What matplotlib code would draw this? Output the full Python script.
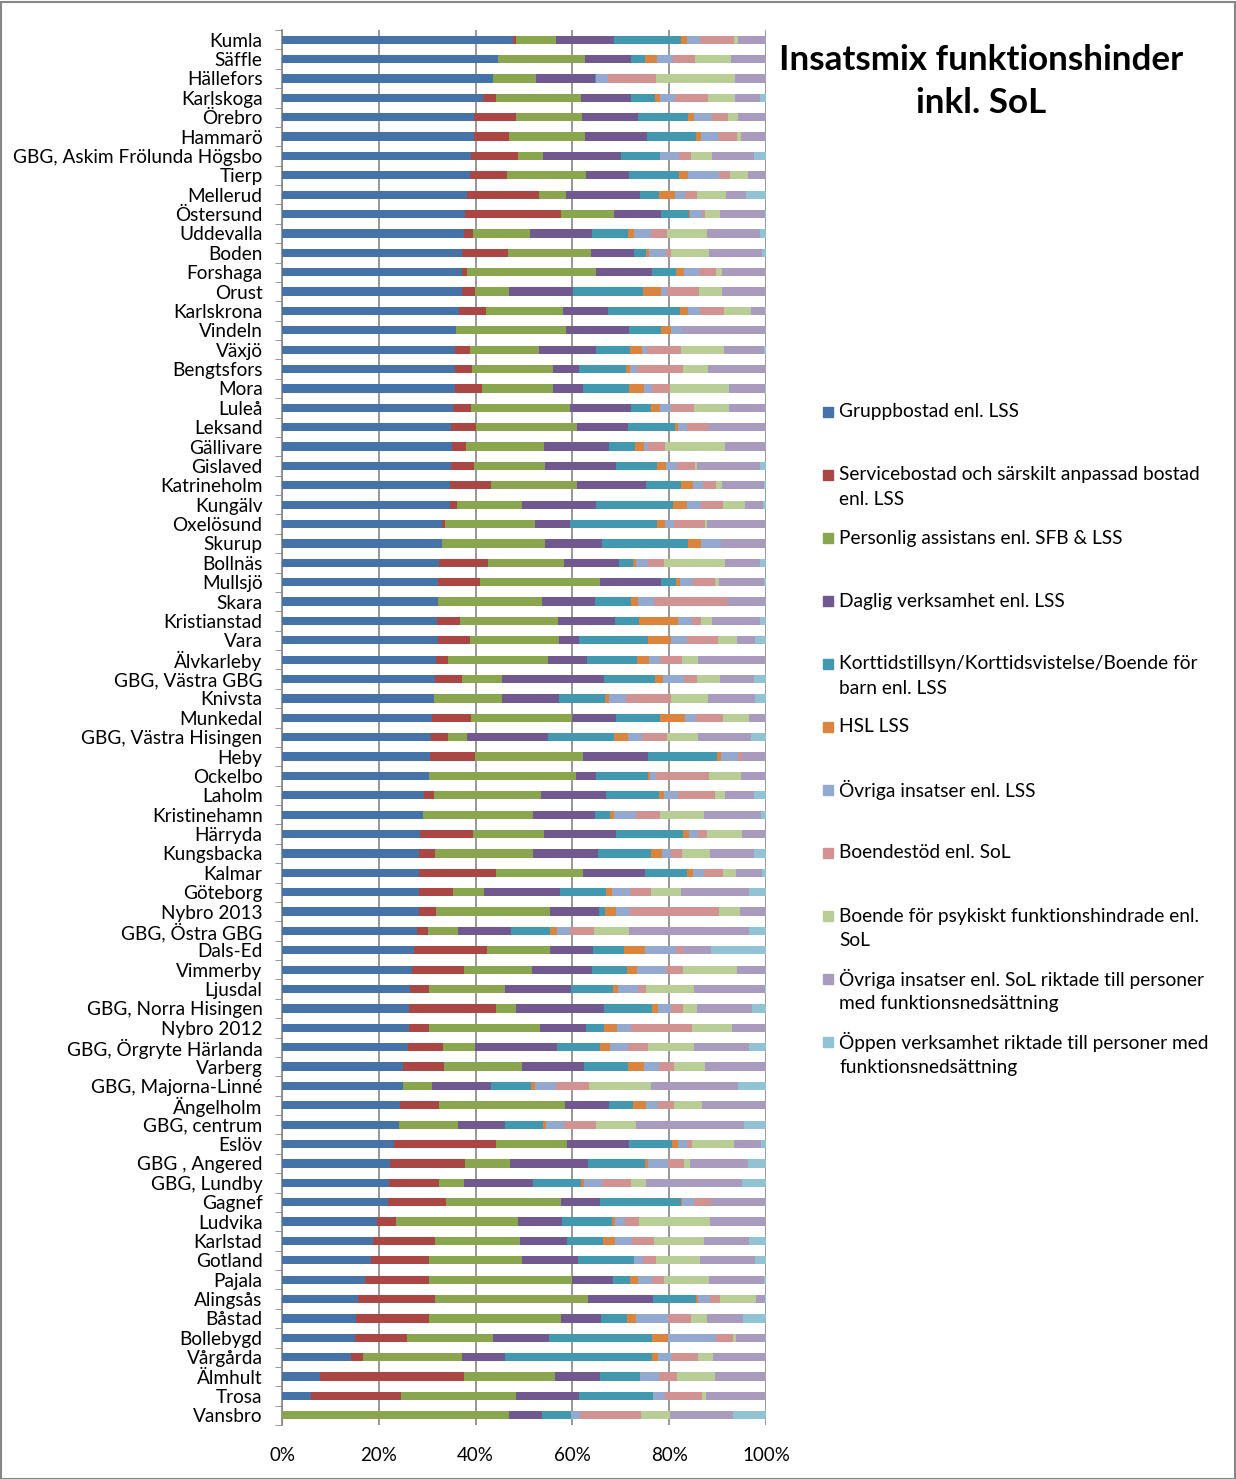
import numpy as np
import matplotlib
matplotlib.use("Agg")
import matplotlib.pyplot as plt
from matplotlib.patches import Rectangle

plt.rcParams['font.family'] = ['Lato', 'DejaVu Sans']

kommuner = [
    "Kumla", "Säffle", "Hällefors", "Karlskoga", "Örebro", "Hammarö",
    "GBG, Askim Frölunda Högsbo", "Tierp", "Mellerud", "Östersund", "Uddevalla", "Boden",
    "Forshaga", "Orust", "Karlskrona", "Vindeln", "Växjö", "Bengtsfors",
    "Mora", "Luleå", "Leksand", "Gällivare", "Gislaved", "Katrineholm",
    "Kungälv", "Oxelösund", "Skurup", "Bollnäs", "Mullsjö", "Skara",
    "Kristianstad", "Vara", "Älvkarleby", "GBG, Västra GBG", "Knivsta", "Munkedal",
    "GBG, Västra Hisingen", "Heby", "Ockelbo", "Laholm", "Kristinehamn", "Härryda",
    "Kungsbacka", "Kalmar", "Göteborg", "Nybro 2013", "GBG, Östra GBG", "Dals-Ed",
    "Vimmerby", "Ljusdal", "GBG, Norra Hisingen", "Nybro 2012", "GBG, Örgryte Härlanda", "Varberg",
    "GBG, Majorna-Linné", "Ängelholm", "GBG, centrum", "Eslöv", "GBG , Angered", "GBG, Lundby",
    "Gagnef", "Ludvika", "Karlstad", "Gotland", "Pajala", "Alingsås",
    "Båstad", "Bollebygd", "Vårgårda", "Älmhult", "Trosa", "Vansbro",
]

# andel (%) per insats, samma ordning som kommuner
gruppbostad = [
    47.6, 44.7, 43.5, 41.6, 39.6, 39.6,
    39.1, 38.9, 38.3, 37.9, 37.7, 37.3,
    37.3, 37.1, 36.7, 36.0, 35.8, 35.8,
    35.8, 35.4, 35.0, 35.0, 35.0, 34.8,
    34.6, 33.1, 33.1, 32.5, 32.3, 32.3,
    32.1, 32.1, 31.9, 31.7, 31.3, 31.1,
    30.7, 30.5, 30.3, 29.4, 29.0, 28.6,
    28.4, 28.4, 28.4, 28.2, 28.0, 27.2,
    26.9, 26.5, 26.3, 26.3, 26.1, 25.1,
    24.9, 24.5, 24.1, 23.2, 22.2, 22.0,
    22.0, 19.7, 18.7, 18.5, 17.1, 15.8,
    15.4, 15.0, 14.3, 7.9, 5.9, 0,
]
servicebostad = [
    0.6, 0, 0, 2.7, 8.7, 7.2,
    9.7, 7.6, 14.9, 19.8, 1.7, 9.5,
    1.0, 2.7, 5.6, 0, 3.1, 3.5,
    5.6, 3.7, 5.0, 2.9, 4.8, 8.5,
    1.4, 0.6, 0, 10.1, 8.5, 0,
    4.8, 6.8, 2.3, 5.4, 0, 8.1,
    3.5, 9.3, 0, 1.9, 0, 11.0,
    3.3, 15.9, 7.0, 3.5, 2.1, 15.1,
    10.8, 3.9, 18.0, 4.1, 7.2, 8.3,
    0, 7.9, 0, 21.1, 15.5, 10.5,
    11.8, 3.9, 12.8, 11.8, 13.4, 15.9,
    14.9, 10.8, 2.5, 29.8, 18.6, 0,
]
personlig_assistans = [
    8.3, 17.8, 8.9, 17.4, 13.6, 15.7,
    5.0, 16.3, 5.4, 10.8, 11.8, 17.2,
    26.7, 7.0, 15.9, 22.7, 14.3, 16.7,
    14.5, 20.5, 20.9, 16.1, 14.5, 17.8,
    13.4, 18.6, 21.3, 15.7, 24.8, 21.3,
    20.3, 18.2, 20.7, 8.3, 14.1, 20.9,
    4.1, 22.3, 30.4, 22.1, 22.9, 14.5,
    20.3, 17.8, 6.4, 23.6, 6.4, 13.0,
    14.1, 15.7, 4.1, 22.9, 6.6, 16.1,
    6.0, 26.1, 12.2, 14.5, 9.3, 5.0,
    23.8, 25.2, 17.6, 19.4, 29.6, 31.6,
    27.3, 17.8, 20.3, 18.8, 23.8, 47.0,
]
daglig_verksamhet = [
    12.0, 9.7, 12.2, 10.5, 11.6, 12.8,
    16.1, 8.9, 15.3, 9.9, 12.8, 8.9,
    11.6, 13.4, 9.3, 13.0, 11.6, 5.4,
    6.2, 12.6, 10.5, 13.4, 14.7, 14.1,
    15.3, 7.2, 11.8, 11.2, 12.6, 11.0,
    11.8, 4.1, 8.1, 21.1, 11.8, 9.1,
    16.7, 13.4, 4.1, 13.4, 12.8, 14.9,
    13.4, 13.0, 15.7, 10.1, 10.8, 8.9,
    12.4, 13.6, 18.2, 9.5, 17.0, 12.8,
    12.2, 9.3, 9.7, 12.8, 16.1, 14.3,
    8.1, 8.9, 9.7, 11.6, 8.5, 13.4,
    8.3, 11.6, 8.9, 9.3, 13.0, 6.8,
]
korttid = [
    13.9, 2.9, 0.2, 4.8, 10.3, 10.1,
    8.1, 10.3, 3.9, 5.6, 7.4, 2.3,
    4.8, 14.3, 14.9, 6.6, 7.2, 9.7,
    9.5, 4.1, 9.7, 5.4, 8.5, 7.4,
    15.9, 18.0, 17.6, 2.9, 3.1, 7.4,
    5.0, 14.3, 10.3, 10.5, 9.5, 9.1,
    13.6, 14.3, 10.8, 11.0, 2.9, 13.9,
    11.0, 8.5, 9.5, 1.2, 8.1, 6.4,
    7.2, 8.7, 9.9, 3.7, 8.9, 9.1,
    8.3, 4.8, 7.9, 8.9, 11.8, 9.9,
    16.7, 10.5, 7.4, 11.4, 3.5, 8.9,
    5.4, 21.3, 30.4, 8.3, 15.3, 6.0,
]
hsl_lss = [
    1.2, 2.3, 0, 1.2, 1.2, 1.0,
    0, 1.9, 3.5, 0.2, 1.4, 0.8,
    1.7, 3.9, 1.7, 1.9, 2.3, 0.8,
    3.1, 1.7, 0.8, 1.9, 1.9, 2.3,
    2.9, 1.7, 2.7, 0.6, 0.8, 1.4,
    7.9, 4.8, 2.5, 1.7, 0.8, 5.2,
    2.9, 0.8, 0.4, 1.0, 1.0, 1.2,
    2.1, 1.4, 1.2, 2.3, 1.4, 4.3,
    2.1, 1.0, 1.2, 2.7, 1.9, 3.3,
    0.8, 2.7, 0.6, 1.4, 0.6, 0.6,
    0.2, 0.6, 2.5, 0, 1.7, 0.4,
    1.9, 3.3, 1.2, 0, 0, 0,
]
ovriga_lss = [
    2.6, 3.4, 2.5, 3.1, 3.7, 3.5,
    3.9, 6.2, 1.9, 2.5, 3.5, 3.5,
    3.1, 1.2, 2.5, 2.3, 1.2, 1.4,
    1.7, 2.3, 1.7, 0.8, 2.3, 2.1,
    2.9, 1.7, 4.3, 2.5, 2.7, 3.3,
    2.9, 3.3, 2.3, 4.3, 3.5, 2.3,
    2.9, 3.5, 1.2, 2.9, 4.5, 1.9,
    1.9, 2.1, 3.8, 2.9, 2.7, 6.4,
    6.0, 4.1, 2.7, 2.9, 3.7, 3.2,
    4.5, 2.5, 3.7, 1.7, 4.1, 3.7,
    2.5, 1.9, 3.5, 1.9, 2.7, 2.5,
    6.6, 9.9, 2.9, 3.8, 2.5, 1.7,
]
boendestod = [
    7.0, 4.5, 9.9, 6.8, 3.3, 3.9,
    2.5, 2.3, 2.5, 0.6, 3.3, 1.0,
    3.5, 6.6, 5.0, 0, 7.0, 9.5,
    3.7, 4.8, 4.5, 3.5, 3.7, 2.7,
    4.5, 6.4, 0, 3.3, 4.5, 15.1,
    1.9, 6.4, 4.5, 2.7, 9.3, 5.4,
    5.2, 0.8, 11.0, 7.6, 5.0, 1.9,
    2.3, 4.1, 4.3, 18.4, 5.0, 1.4,
    3.5, 1.7, 2.5, 12.6, 4.3, 3.0,
    6.8, 3.3, 6.6, 1.2, 3.3, 6.0,
    3.5, 2.9, 4.5, 2.7, 2.5, 1.9,
    4.8, 3.5, 5.4, 3.7, 7.6, 12.6,
]
boende_psyk = [
    0.9, 7.4, 16.3, 5.4, 2.1, 0.8,
    4.3, 3.7, 6.0, 3.1, 8.3, 7.9,
    1.4, 4.8, 5.4, 0, 8.9, 5.2,
    12.2, 7.2, 0, 12.4, 0.4, 1.2,
    4.5, 0.6, 0, 12.6, 1.0, 0,
    2.3, 3.9, 3.3, 4.8, 7.6, 5.4,
    6.4, 0, 6.6, 2.1, 8.9, 7.2,
    5.8, 2.7, 6.2, 4.3, 7.2, 0,
    11.2, 9.9, 2.9, 8.1, 9.5, 6.4,
    12.8, 5.8, 8.3, 8.5, 1.4, 3.1,
    0, 14.7, 10.5, 9.1, 9.5, 7.6,
    3.3, 0.6, 3.1, 7.9, 1.0, 6.0,
]
ovriga_sol = [
    5.7, 7.3, 6.5, 5.2, 5.7, 5.2,
    8.7, 3.8, 4.1, 9.3, 10.8, 10.8,
    9.0, 9.0, 2.9, 17.4, 8.1, 11.9,
    7.4, 7.6, 11.9, 8.5, 13.0, 8.7,
    3.7, 12.1, 9.2, 7.2, 9.1, 8.0,
    9.9, 3.7, 14.1, 7.0, 9.7, 3.6,
    10.8, 5.0, 5.2, 6.0, 11.8, 5.0,
    9.1, 5.2, 13.9, 5.4, 24.8, 5.8,
    5.9, 14.5, 11.4, 7.1, 11.2, 12.7,
    18.0, 13.3, 22.3, 5.6, 11.8, 19.8,
    11.4, 11.6, 9.1, 11.4, 11.2, 1.7,
    7.4, 6.3, 11.0, 10.6, 12.3, 13.0,
]
oppen_verksamhet = [
    0.1, 0, 0, 1.3, 0.1, 0,
    2.5, 0, 4.2, 0.3, 1.3, 0.9,
    0, 0, 0.3, 0, 0.5, 0,
    0.3, 0.1, 0, 0, 1.3, 0.5,
    0.7, 0, 0, 1.3, 0.5, 0.1,
    1.3, 2.3, 0, 2.5, 2.3, 0,
    3.2, 0, 0, 2.5, 1.1, 0,
    2.5, 0.9, 3.6, 0, 3.6, 11.4,
    0, 0.3, 2.8, 0, 3.6, 0,
    5.7, 0, 4.6, 1.1, 3.8, 5.0,
    0, 0, 3.6, 2.3, 0.5, 0.3,
    4.8, 0, 0, 0, 0, 6.9,
]

serier = [
    ("Gruppbostad enl. LSS", gruppbostad, "#4572A7"),
    ("Servicebostad och särskilt anpassad bostad\nenl. LSS", servicebostad, "#AA4643"),
    ("Personlig assistans enl. SFB & LSS", personlig_assistans, "#89A54E"),
    ("Daglig verksamhet enl. LSS", daglig_verksamhet, "#71588F"),
    ("Korttidstillsyn/Korttidsvistelse/Boende för\nbarn enl. LSS", korttid, "#4198AF"),
    ("HSL LSS", hsl_lss, "#DB843D"),
    ("Övriga insatser enl. LSS", ovriga_lss, "#93A9CF"),
    ("Boendestöd enl. SoL", boendestod, "#D19392"),
    ("Boende för psykiskt funktionshindrade enl.\nSoL", boende_psyk, "#B9CD96"),
    ("Övriga insatser enl. SoL riktade till personer\nmed funktionsnedsättning", ovriga_sol, "#A99BBD"),
    ("Öppen verksamhet riktade till personer med\nfunktionsnedsättning", oppen_verksamhet, "#92C3D4"),
]

W, H = 1236, 1479
fig = plt.figure(figsize=(W / 100, H / 100), dpi=100)
ax = fig.add_axes([282 / W, 1 - 1425 / H, 484 / W, 1395 / H])

data = np.array([s[1] for s in serier], dtype=float)
andel = data / data.sum(axis=0) * 100  # 100 % staplad
y = np.arange(len(kommuner))
left = np.zeros(len(kommuner))
for (namn, _, farg), v in zip(serier, andel):
    ax.barh(y, v, left=left, height=0.42, color=farg, zorder=3)
    left += v

ax.set_xlim(0, 100)
ax.set_ylim(len(kommuner) - 0.5, -0.5)
ax.set_yticks(y)
ax.set_yticklabels(kommuner, fontsize=13.7)
ax.set_yticks(np.arange(len(kommuner) + 1) - 0.5, minor=True)
ax.tick_params(axis='y', which='major', length=0, pad=14)
ax.tick_params(axis='y', which='minor', length=5, color='#868686', direction='out')
ax.set_xticks(np.arange(0, 101, 20))
ax.set_xticklabels([f"{v}%" for v in range(0, 101, 20)], fontsize=13.5)
ax.tick_params(axis='x', length=0, pad=16)
ax.xaxis.grid(True, color='#868686', linewidth=1.2, zorder=0)
ax.set_axisbelow(True)
for s in ['top', 'right', 'bottom']:
    ax.spines[s].set_visible(False)
ax.spines['left'].set_color('#868686')
ax.spines['left'].set_linewidth(1.2)

# titel
fig.text(981 / W, 1 - 60 / H, "Insatsmix funktionshinder", fontsize=25.2,
         fontweight='bold', ha='center', va='center')
fig.text(981 / W, 1 - 103 / H, "inkl. SoL", fontsize=25.2,
         fontweight='bold', ha='center', va='center')

# förklaring
for i, (namn, _, farg) in enumerate(serier):
    ypix = 412 + i * 63
    fig.patches.append(Rectangle((823 / W, 1 - (ypix + 5) / H), 10 / W, 10 / H,
                                 transform=fig.transFigure, color=farg))
    for k, rad in enumerate(namn.split("\n")):
        fig.text(839 / W, 1 - (ypix + 25 * k) / H, rad, fontsize=13.8,
                 ha='left', va='center')

# ram runt diagrammet
fig.patches.append(Rectangle((0.5 / W, 0.5 / H), 1 - 2 / W, 1 - 2 / H, fill=False,
                             transform=fig.transFigure, edgecolor='#868686',
                             linewidth=1.5))

fig.savefig("out.png", dpi=100, facecolor='white')
